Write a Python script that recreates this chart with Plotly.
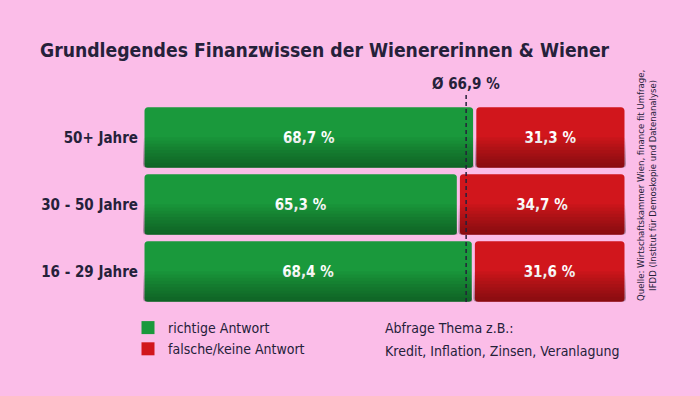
import plotly.graph_objects as go

# ---- data ----
categories = ["16 - 29 Jahre", "30 - 50 Jahre", "50+ Jahre"]
richtig = [68.4, 65.3, 68.7]
falsch = [31.6, 34.7, 31.3]
average = 66.9
series_names = ["richtige Antwort", "falsche/keine Antwort"]

BG = "#fbbde8"
GREEN = "#1a993c"
RED = "#d1161c"
DARK = "#25213a"
FONT = "DejaVu Sans Condensed, Roboto, sans-serif"
BAR_W = 0.95


def fmt(v):
    return f"{v:.1f} %".replace(".", ",")


fig = go.Figure()

# green bars: drawn from the split point back to 0 so the outer end is rounded
segments = [
    (dict(x=[-v for v in richtig], base=richtig), GREEN, richtig),
    (dict(x=falsch, base=richtig), RED, falsch),
]
for geo, col, vals in segments:
    fig.add_trace(go.Bar(
        y=categories, orientation="h", **geo,
        marker=dict(color=col, line=dict(color=BG, width=3), cornerradius=5),
        width=BAR_W, text=[fmt(v) for v in vals], textposition="inside",
        insidetextanchor="middle", textangle=0,
        textfont=dict(color="white", size=15, family=FONT, weight="bold"),
        showlegend=False, hoverinfo="skip"))
    # darker shading toward the bottom of each bar (gradient look)
    for k in range(1, 11):
        frac = 0.05 * k
        fig.add_trace(go.Bar(
            y=categories, orientation="h", **geo,
            marker=dict(color="rgba(0,0,0,0.038)", line=dict(width=0), cornerradius=4),
            width=BAR_W * frac - 0.02, offset=-BAR_W / 2 + 0.023,
            showlegend=False, hoverinfo="skip"))

# legend entries (square swatches)
for name, col in zip(series_names, [GREEN, RED]):
    fig.add_trace(go.Scatter(y=[None], x=[None], mode="markers", name=name,
                             marker=dict(color=col, symbol="square", size=13),
                             showlegend=True))

# average line
fig.add_shape(type="line", xref="x", yref="paper", x0=average, x1=average,
              y0=0.015, y1=1.06, line=dict(color=DARK, width=1.5, dash="4px,3px"))
fig.add_annotation(xref="x", yref="paper", x=average, y=1.10, text="Ø " + fmt(average),
                   showarrow=False, yanchor="middle", xanchor="center",
                   font=dict(size=15, color=DARK, family=FONT, weight="bold"))

# side notes
fig.add_annotation(xref="paper", yref="paper", x=(383 - 143) / 483, y=(305 - 328) / 201,
                   xanchor="left", yanchor="middle", showarrow=False,
                   text="Abfrage Thema z.B.:", font=dict(size=14, color=DARK, family=FONT))
fig.add_annotation(xref="paper", yref="paper", x=(383 - 143) / 483, y=(305 - 351) / 201,
                   xanchor="left", yanchor="middle", showarrow=False,
                   text="Kredit, Inflation, Zinsen, Veranlagung",
                   font=dict(size=14, color=DARK, family=FONT))
fig.add_annotation(xref="paper", yref="paper", x=(646 - 143) / 483, y=(305 - 186) / 201,
                   xanchor="center", yanchor="middle", showarrow=False, textangle=-90,
                   text="Quelle: Wirtschaftskammer Wien, finance fit Umfrage,<br>IFDD (Institut für Demoskopie und Datenanalyse)",
                   font=dict(size=9.5, color=DARK, family=FONT))

fig.update_layout(
    width=700, height=396,
    paper_bgcolor=BG, plot_bgcolor=BG,
    barmode="overlay",
    margin=dict(l=143, r=74, t=104, b=91),
    font=dict(family=FONT, color=DARK),
    title=dict(text="Grundlegendes Finanzwissen der Wienererinnen & Wiener",
               xref="container", yref="container", x=40 / 700, xanchor="left",
               y=1 - 50 / 396, yanchor="middle",
               font=dict(size=19.2, color=DARK, family=FONT, weight="bold")),
    xaxis=dict(range=[0, 100], visible=False, fixedrange=True),
    yaxis=dict(categoryorder="array", categoryarray=categories, showgrid=False,
               zeroline=False, showline=False, ticks="", ticklabelstandoff=4,
               fixedrange=True,
               tickfont=dict(size=15, color=DARK, family=FONT, weight="bold")),
    legend=dict(x=(128 - 143) / 483, y=(305 - 312) / 201, xanchor="left", yanchor="top",
                orientation="v", bgcolor="rgba(0,0,0,0)",
                font=dict(size=14, color=DARK, family=FONT), tracegroupgap=0),
    showlegend=True,
)

fig.write_html("out.html", config={"displayModeBar": False},
               post_script="document.body.style.margin='0px';")
